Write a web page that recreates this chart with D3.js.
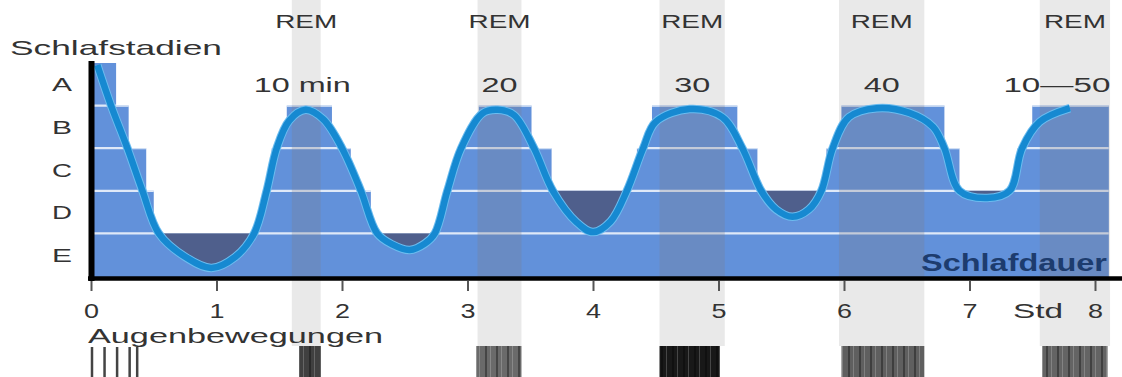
<!DOCTYPE html>
<html>
<head>
<meta charset="utf-8">
<script src="https://cdn.jsdelivr.net/npm/d3@7"></script>
<style>
  body { margin: 0; background: #fff; }
  svg { display: block; font-family: "Liberation Sans", Arial, Helvetica, sans-serif; }
</style>
</head>
<body>
<svg id="chart" width="1122" height="377"></svg>
<script>
// sleep stages, top (light) to bottom (deep)
var stageNames = ["A", "B", "C", "D", "E"];

// hypnogram steps: start hour and stage
var stepStart = [0, 0.20, 0.30, 0.44, 0.50, 1.38, 1.44, 1.56, 1.92, 2.07, 2.23, 2.83, 2.93,
                 3.09, 3.51, 3.67, 4.35, 4.47, 5.15, 5.31, 5.86, 5.98, 6.80, 6.92, 7.38, 7.50];
var stepStage = ["A", "B", "C", "D", "E", "D", "C", "B", "C", "D", "E", "D", "C",
                 "B", "C", "D", "C", "B", "C", "D", "C", "B", "C", "D", "C", "B"];
var stepEnd = 8.11;

// smooth sleep depth curve (0 = top of A, 5 = bottom of E)
var curveHours = [0.05, 0.16, 0.29, 0.41, 0.54, 0.75, 0.96, 1.15, 1.30, 1.40, 1.48, 1.58, 1.71, 1.85,
                  2.00, 2.15, 2.28, 2.40, 2.54, 2.66, 2.74, 2.84, 2.95, 3.12, 3.24, 3.37, 3.53, 3.68,
                  3.87, 4.00, 4.14, 4.27, 4.40, 4.50, 4.77, 5.03, 5.19, 5.34, 5.46, 5.59, 5.72, 5.82,
                  5.91, 6.04, 6.26, 6.52, 6.71, 6.80, 6.92, 7.14, 7.32, 7.42, 7.56, 7.80];
var curveDepth = [0.05, 1.0, 2.0, 3.0, 4.0, 4.55, 4.81, 4.55, 4.0, 3.0, 2.0, 1.35, 1.10, 1.32,
                  2.0, 3.0, 4.0, 4.26, 4.39, 4.24, 4.0, 3.0, 2.0, 1.18, 1.10, 1.22, 2.0, 3.0,
                  3.74, 3.97, 3.72, 3.0, 2.0, 1.38, 1.08, 1.27, 2.0, 3.0, 3.44, 3.61, 3.44, 3.0,
                  2.0, 1.27, 1.06, 1.17, 1.50, 2.0, 3.0, 3.17, 3.0, 2.0, 1.38, 1.06];

// REM phases
var remStart  = [1.60, 3.08, 4.53, 5.96, 7.56];
var remEnd    = [1.83, 3.43, 5.05, 6.64, 8.12];
var remLength = ["10 min", "20", "30", "40", "10\u201450"];

// eye movements
var eyeStart = [1.66, 3.07, 4.53, 5.98, 7.58];
var eyeEnd   = [1.83, 3.43, 5.01, 6.64, 8.10];
var eyeIntensity = [0.80, 0.66, 0.92, 0.70, 0.68];
var eyeLines = [0, 0.10, 0.20, 0.30, 0.36];

var tickHours = [0, 1, 2, 3, 4, 5, 6, 7, 8];


var svg = d3.select("#chart");
var x = d3.scaleLinear().domain([0, 8]).range([91, 1095]);
var y = d3.scaleLinear().domain([0, 5]).range([63, 276]);
var base = 277;

var textColor = "#333";
var blue = "#6291da";
var dark = "#4f5f8c";
var smooth = d3.curveCatmullRom.alpha(0.5);

var steps = stepStart.map(function(h, i) { return { h: h, d: stageNames.indexOf(stepStage[i]) }; });
steps.push({ h: stepEnd, d: steps[steps.length - 1].d });

var pts = curveHours.map(function(h, i) { return { h: h, d: curveDepth[i] }; });

var stepArea = d3.area().curve(d3.curveStepAfter)
    .x(function(d) { return x(d.h); })
    .y0(base)
    .y1(function(d) { return y(d.d); });

var underArea = d3.area().curve(smooth)
    .x(function(d) { return x(d.h); })
    .y0(base)
    .y1(function(d) { return y(d.d); });

var aboveArea = d3.area().curve(smooth)
    .x(function(d) { return x(d.h); })
    .y0(0)
    .y1(function(d) { return y(d.d); });

var depthLine = d3.line().curve(smooth)
    .x(function(d) { return x(d.h); })
    .y(function(d) { return y(d.d); });

// defs
var defs = svg.append("defs");
var blueClip = defs.append("clipPath").attr("id", "blueClip");
blueClip.append("path").attr("d", stepArea(steps));
blueClip.append("path").attr("d", underArea(pts));
defs.append("clipPath").attr("id", "aboveClip")
    .append("path").attr("d", aboveArea(pts));

var pat = defs.append("pattern").attr("id", "eyeTex")
    .attr("patternUnits", "userSpaceOnUse")
    .attr("width", 11).attr("height", 40);
pat.append("rect").attr("x", 1).attr("width", 2).attr("height", 40).attr("fill", "rgba(0,0,0,0.35)");
pat.append("rect").attr("x", 6).attr("width", 1).attr("height", 40).attr("fill", "rgba(255,255,255,0.2)");

// REM columns
var rem = remStart.map(function(s, i) { return { s: s, e: remEnd[i], t: remLength[i] }; });

svg.append("g").selectAll("rect")
    .data(rem)
    .enter().append("rect")
    .attr("x", function(d) { return x(d.s); })
    .attr("width", function(d) { return x(d.e) - x(d.s); })
    .attr("y", 0)
    .attr("height", 346)
    .attr("fill", "#e9e9e9");

// blue stage area
svg.append("path").attr("d", stepArea(steps)).attr("fill", blue);
svg.append("path").attr("d", underArea(pts)).attr("fill", blue);

// stage boundary lines
svg.append("g").attr("clip-path", "url(#blueClip)")
    .selectAll("line")
    .data([1, 2, 3, 4])
    .enter().append("line")
    .attr("x1", x(0)).attr("x2", x(stepEnd))
    .attr("y1", function(d) { return y(d); })
    .attr("y2", function(d) { return y(d); })
    .attr("stroke", "#fff")
    .attr("stroke-opacity", 0.8)
    .attr("stroke-width", 2.2);

// deep troughs: step area above the curve
var troughs = [];
steps.forEach(function(d, i) {
    if (i > 0 && i < steps.length - 1 && d.d > steps[i - 1].d && d.d > steps[i + 1].d) {
        troughs.push({ s: d.h, e: steps[i + 1].h, d: d.d });
    }
});

svg.append("g").attr("clip-path", "url(#aboveClip)")
    .selectAll("rect")
    .data(troughs)
    .enter().append("rect")
    .attr("x", function(d) { return x(d.s); })
    .attr("width", function(d) { return x(d.e) - x(d.s); })
    .attr("y", function(d) { return y(d.d); })
    .attr("height", function(d) { return base - y(d.d); })
    .attr("fill", dark);

// REM shade over the blue
svg.append("g").attr("clip-path", "url(#blueClip)")
    .selectAll("rect")
    .data(rem)
    .enter().append("rect")
    .attr("x", function(d) { return x(d.s); })
    .attr("width", function(d) { return x(d.e) - x(d.s); })
    .attr("y", 0)
    .attr("height", base)
    .attr("fill", "#7c7c88")
    .attr("opacity", 0.28);

// depth curve
svg.append("path").attr("d", depthLine(pts))
    .attr("fill", "none").attr("stroke", "#6cbcef").attr("stroke-width", 8.5);
svg.append("path").attr("d", depthLine(pts))
    .attr("fill", "none").attr("stroke", "#1689d1").attr("stroke-width", 6.5);

// axes
var xAxis = d3.axisBottom(x).tickValues(tickHours).tickSize(10).tickFormat(String);
var gx = svg.append("g")
    .attr("transform", "translate(0,281)")
    .call(xAxis);
gx.select(".domain").remove();
gx.selectAll(".tick line").attr("stroke", "#555").attr("stroke-width", 2);
gx.selectAll(".tick text")
    .attr("y", 37).attr("dy", 0)
    .attr("font-size", 21)
    .attr("fill", textColor)
    .attr("textLength", 15)
    .attr("lengthAdjust", "spacingAndGlyphs");

svg.append("line")
    .attr("x1", 88).attr("x2", 1122)
    .attr("y1", 278.5).attr("y2", 278.5)
    .attr("stroke", "#000").attr("stroke-width", 4.5);
svg.append("line")
    .attr("x1", 91.5).attr("x2", 91.5)
    .attr("y1", 61).attr("y2", 281)
    .attr("stroke", "#000").attr("stroke-width", 6);

function label(s, px, py, size, w, anchor, color, weight) {
    return svg.append("text")
        .attr("x", px).attr("y", py)
        .attr("font-size", size)
        .attr("font-weight", weight || "normal")
        .attr("text-anchor", anchor)
        .attr("fill", color || textColor)
        .attr("textLength", w)
        .attr("lengthAdjust", "spacingAndGlyphs")
        .text(s);
}

// stage labels
svg.append("g").selectAll("text")
    .data(stageNames)
    .enter().append("text")
    .attr("x", 62)
    .attr("y", function(d, i) { return (y(i) + y(i + 1)) / 2 + 7; })
    .attr("text-anchor", "middle")
    .attr("font-size", 19)
    .attr("fill", textColor)
    .attr("textLength", 20)
    .attr("lengthAdjust", "spacingAndGlyphs")
    .text(function(d) { return d; });

label("Schlafstadien", 10, 55, 21, 212, "start");
label("Std", 1038, 318, 21, 50, "middle");
label("Augenbewegungen", 88, 343, 21, 295, "start");
label("Schlafdauer", 1107, 271, 24, 186, "end", "#1d3c6e", "bold");

// REM labels and durations
rem.forEach(function(d, i) {
    var cx = (x(d.s) + x(d.e)) / 2;
    label("REM", cx, 28, 18, 62, "middle");
    var w = d.t.length * 18;
    if (i === 0) { w = 97; cx = cx - 4; }
    if (i === 4) { w = 107; cx = cx - 18; }
    label(d.t, cx, 92, 20, w, "middle");
});

// eye movement recordings
svg.append("g").selectAll("line")
    .data(eyeLines)
    .enter().append("line")
    .attr("x1", function(d) { return x(d) + 1; })
    .attr("x2", function(d) { return x(d) + 1; })
    .attr("y1", 347).attr("y2", 377)
    .attr("stroke", "#444").attr("stroke-width", 2.5);

var eye = eyeStart.map(function(s, i) { return { s: s, e: eyeEnd[i], v: eyeIntensity[i] }; });
var eyeG = svg.append("g");
eyeG.selectAll("rect.base")
    .data(eye)
    .enter().append("rect")
    .attr("class", "base")
    .attr("x", function(d) { return x(d.s); })
    .attr("width", function(d) { return x(d.e) - x(d.s); })
    .attr("y", 346).attr("height", 31)
    .attr("fill", function(d) { return d3.interpolateGreys(d.v); });
eyeG.selectAll("rect.tex")
    .data(eye)
    .enter().append("rect")
    .attr("class", "tex")
    .attr("x", function(d) { return x(d.s); })
    .attr("width", function(d) { return x(d.e) - x(d.s); })
    .attr("y", 346).attr("height", 31)
    .attr("fill", "url(#eyeTex)");
</script>
</body>
</html>
